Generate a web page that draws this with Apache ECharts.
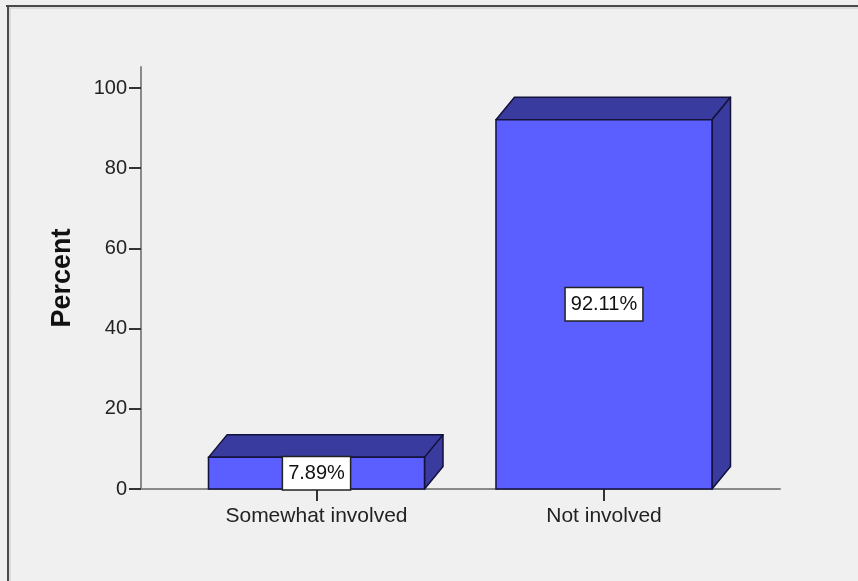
<!DOCTYPE html>
<html>
<head>
<meta charset="utf-8">
<script src="https://cdn.jsdelivr.net/npm/echarts@6/dist/echarts.min.js"></script>
<style>
  html, body { margin: 0; padding: 0; background: #f0f0f0; }
  #chart { width: 858px; height: 581px; }
</style>
</head>
<body>
<div id="chart"></div>
<script>
// Involvement categories and their percentages
const categories = ['Somewhat involved', 'Not involved'];
const percents = [7.89, 92.11];
const yTicks = [0, 20, 40, 60, 80, 100];

const chart = echarts.init(document.getElementById('chart'), null, { renderer: 'canvas' });

const FONT = '"Liberation Sans", Arial, sans-serif';
const FRONT = '#5b5fff';
const SHADE = '#3a3b9e';
const EDGE = '#12123a';
const HALF_W = 0.3757;      // half bar width in category units
const DEPTH_X = 18.5, DEPTH_Y = -22.5;   // 3D extrusion in pixels

function renderBar(params, api) {
  const x = api.value(0);
  const v = api.value(1);
  const tl = api.coord([x - HALF_W, v]);
  const br = api.coord([x + HALF_W, 0]);
  const x0 = tl[0], y0 = tl[1], x1 = br[0], y1 = br[1];
  const dx = DEPTH_X, dy = DEPTH_Y;
  const label = v.toFixed(2) + '%';
  return {
    type: 'group',
    children: [
      {
        type: 'polygon',
        shape: { points: [[x0, y0], [x1, y0], [x1 + dx, y0 + dy], [x0 + dx, y0 + dy]] },
        style: { fill: SHADE, stroke: EDGE, lineWidth: 1.5, lineJoin: 'round' }
      },
      {
        type: 'polygon',
        shape: { points: [[x1, y0], [x1, y1], [x1 + dx, y1 + dy], [x1 + dx, y0 + dy]] },
        style: { fill: SHADE, stroke: EDGE, lineWidth: 1.5, lineJoin: 'round' }
      },
      {
        type: 'rect',
        shape: { x: x0, y: y0, width: x1 - x0, height: y1 - y0 },
        style: { fill: FRONT, stroke: EDGE, lineWidth: 1.5 }
      },
      {
        type: 'text',
        x: (x0 + x1) / 2,
        y: (y0 + y1) / 2,
        style: {
          text: label,
          align: 'center',
          verticalAlign: 'middle',
          fontFamily: FONT,
          fontSize: 20,
          fill: '#111',
          backgroundColor: '#ffffff',
          borderColor: '#222',
          borderWidth: 1.5,
          padding: [6, 5]
        }
      }
    ]
  };
}

const option = {
  backgroundColor: '#f0f0f0',
  animation: false,
  graphic: [
    { type: 'line', shape: { x1: 6, y1: 6, x2: 858, y2: 6 }, style: { stroke: '#4a4a4a', lineWidth: 2 } },
    { type: 'line', shape: { x1: 8, y1: 5, x2: 8, y2: 581 }, style: { stroke: '#4a4a4a', lineWidth: 2 } },
    { type: 'line', shape: { x1: 9, y1: 8, x2: 858, y2: 8 }, style: { stroke: '#c8c8c8', lineWidth: 1 } },
    { type: 'line', shape: { x1: 10, y1: 8, x2: 10, y2: 581 }, style: { stroke: '#c8c8c8', lineWidth: 1 } }
  ],
  grid: { left: 141, right: 78, top: 67, bottom: 92 },
  xAxis: {
    type: 'value',
    min: -0.6104,
    max: 1.6122,
    splitLine: { show: false },
    axisLine: { show: true, onZero: false, lineStyle: { color: '#8a8a8a', width: 2 } },
    axisTick: { show: true, customValues: [0, 1], length: 12, lineStyle: { color: '#333', width: 2 } },
    axisLabel: {
      customValues: [0, 1],
      formatter: function (v) { return categories[Math.round(v)]; },
      margin: 17,
      fontFamily: FONT,
      fontSize: 21,
      color: '#222'
    }
  },
  yAxis: {
    type: 'value',
    min: 0,
    max: 105.24,
    name: 'Percent',
    nameLocation: 'middle',
    nameGap: 65,
    nameRotate: 90,
    nameTextStyle: { fontFamily: FONT, fontSize: 27, fontWeight: 'bold', color: '#111' },
    splitLine: { show: false },
    axisLine: { show: true, onZero: false, lineStyle: { color: '#8a8a8a', width: 2 } },
    axisTick: { show: true, customValues: yTicks, length: 12, lineStyle: { color: '#333', width: 2 } },
    axisLabel: {
      customValues: yTicks,
      margin: 14,
      fontFamily: FONT,
      fontSize: 20,
      color: '#222'
    }
  },
  series: [{
    type: 'custom',
    renderItem: renderBar,
    encode: { x: 0, y: 1 },
    data: categories.map(function (c, i) { return [i, percents[i]]; }),
    clip: false
  }]
};

chart.setOption(option);
</script>
</body>
</html>
